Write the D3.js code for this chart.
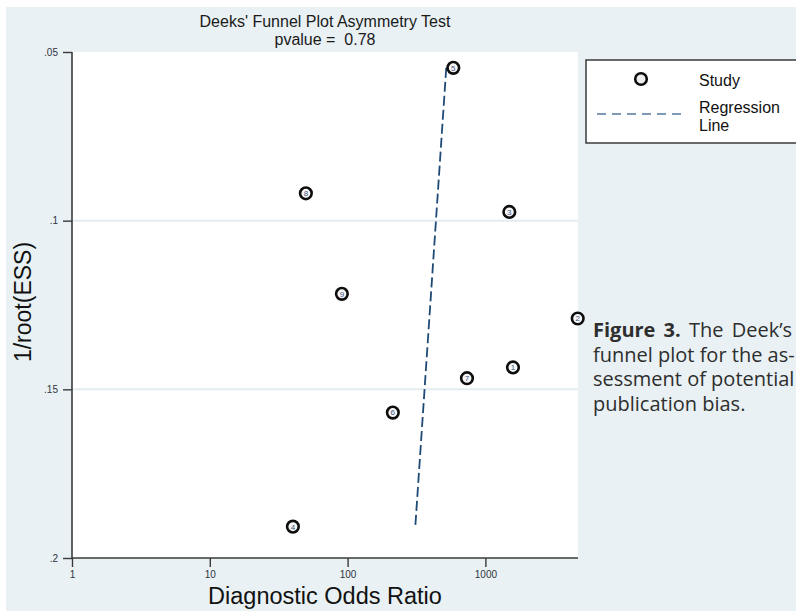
<!DOCTYPE html>
<html>
<head>
<meta charset="utf-8">
<script src="https://cdn.jsdelivr.net/npm/d3@7"></script>
<style>
  html, body { margin: 0; padding: 0; background: #ffffff; overflow: hidden; }
  svg { display: block; }
</style>
</head>
<body>
<div id="chart"></div>
<script>
// ---- data ----
const studyIds   = ["1", "2", "3", "4", "5", "6", "7", "8", "9"];
const dorValues  = [1586, 4677, 1492, 40.1, 585, 213, 735, 49.8, 90.9];
const invRootEss = [0.1435, 0.1290, 0.0974, 0.1907, 0.0547, 0.1569, 0.1467, 0.0919, 0.1217];
const regressionDor = [520, 310];
const regressionY   = [0.0547, 0.1907];
const xTickValues = [1, 10, 100, 1000];
const yTickValues = [0.05, 0.1, 0.15, 0.2];
const yGridValues = [0.1, 0.15];
const titleLines  = ["Deeks' Funnel Plot Asymmetry Test", "pvalue =  0.78"];
const legendLabels = ["Study", "Regression", "Line"];
const captionLines = [
  {bold: "Figure 3.", rest: " The Deek\u2019s"},
  {bold: "", rest: "funnel plot for the as-"},
  {bold: "", rest: "sessment of potential"},
  {bold: "", rest: "publication bias."}
];
const captionWordSpacing = [3, 0, 0, 0];

const W = 796, H = 611;
const bg = "#e9f1f4";
const svg = d3.select("#chart").append("svg").attr("width", W).attr("height", H);

// outer background
svg.append("rect").attr("x", 6).attr("y", 7).attr("width", W - 6).attr("height", H - 7).attr("fill", bg);

const plot = {left: 72, right: 578, top: 52, bottom: 558};
const x = d3.scaleLog().domain([1, 4700]).range([plot.left, plot.right]);
const y = d3.scaleLinear().domain([0.05, 0.2]).range([plot.top, plot.bottom]);

// plot region
svg.append("rect")
  .attr("x", plot.left).attr("y", plot.top)
  .attr("width", plot.right - plot.left).attr("height", plot.bottom - plot.top)
  .attr("fill", "#ffffff");

// gridlines
svg.append("g").selectAll("line").data(yGridValues).join("line")
  .attr("x1", plot.left).attr("x2", plot.right)
  .attr("y1", d => y(d)).attr("y2", d => y(d))
  .attr("stroke", "#e3edf1").attr("stroke-width", 2);

// axes
const fmtY = d => d3.format("")(d).replace(/^0/, "");
const yAxis = d3.axisLeft(y).tickValues(yTickValues).tickFormat(fmtY).tickSize(9).tickPadding(5);
const xAxis = d3.axisBottom(x).tickValues(xTickValues).tickFormat(d3.format("d")).tickSize(9).tickPadding(4);

const gy = svg.append("g").attr("transform", `translate(${plot.left},0)`).call(yAxis);
const gx = svg.append("g").attr("transform", `translate(0,${plot.bottom})`).call(xAxis);
[gx, gy].forEach(g => {
  g.select(".domain").attr("stroke", "#3a3a3a").attr("stroke-width", 1.6);
  g.selectAll(".tick line").attr("stroke", "#3a3a3a").attr("stroke-width", 1.4);
  g.selectAll(".tick text").attr("fill", "#2e3440").attr("font-family", "Liberation Sans, Arial, sans-serif").attr("font-size", 10);
});
gx.select(".domain").attr("d", `M${plot.left},0H${plot.right}`);
gy.select(".domain").attr("d", `M0,${plot.top}V${plot.bottom}`);

// regression line
const lineGen = d3.line().x(d => x(d[0])).y(d => y(d[1]));
svg.append("path")
  .datum(d3.zip(regressionDor, regressionY))
  .attr("d", lineGen)
  .attr("fill", "none")
  .attr("stroke", "#1f4a76")
  .attr("stroke-width", 1.8)
  .attr("stroke-dasharray", "10,4");

// study markers
const pts = d3.zip(studyIds, dorValues, invRootEss);
const gp = svg.append("g").selectAll("g").data(pts).join("g")
  .attr("transform", d => `translate(${x(d[1])},${y(d[2])})`);
gp.append("circle").attr("r", 5.8).attr("fill", "#f6f6f6").attr("stroke", "#0d0d0d").attr("stroke-width", 2.6);
gp.append("text").text(d => d[0])
  .attr("text-anchor", "middle").attr("dy", "0.36em")
  .attr("font-family", "Liberation Sans, Arial, sans-serif").attr("font-size", 8)
  .attr("fill", "#3d5482");

// titles
const tx = (plot.left + plot.right) / 2;
svg.append("text").attr("x", tx).attr("y", 27).attr("text-anchor", "middle")
  .attr("font-family", "Liberation Sans, Arial, sans-serif").attr("font-size", 16).attr("fill", "#1a1a1a")
  .text(titleLines[0]);
svg.append("text").attr("x", tx).attr("y", 45).attr("text-anchor", "middle")
  .attr("font-family", "Liberation Sans, Arial, sans-serif").attr("font-size", 16).attr("fill", "#1a1a1a")
  .attr("xml:space", "preserve").style("white-space", "pre")
  .text(titleLines[1]);

svg.append("text").attr("x", tx).attr("y", 604).attr("text-anchor", "middle")
  .attr("font-family", "Liberation Sans, Arial, sans-serif").attr("font-size", 23.5).attr("fill", "#111")
  .text("Diagnostic Odds Ratio");
svg.append("text")
  .attr("transform", `translate(31,${(plot.top + plot.bottom) / 2 - 3}) rotate(-90)`)
  .attr("text-anchor", "middle")
  .attr("font-family", "Liberation Sans, Arial, sans-serif").attr("font-size", 23).attr("fill", "#111")
  .text("1/root(ESS)");

// legend
const lg = svg.append("g");
lg.append("rect").attr("x", 586).attr("y", 60).attr("width", 260).attr("height", 83)
  .attr("fill", "#ffffff").attr("stroke", "#3a3a3a").attr("stroke-width", 1.5);
lg.append("circle").attr("cx", 641).attr("cy", 79).attr("r", 5.8)
  .attr("fill", "#eeeeee").attr("stroke", "#0d0d0d").attr("stroke-width", 2.6);
lg.append("line").attr("x1", 597).attr("x2", 686).attr("y1", 114).attr("y2", 114)
  .attr("stroke", "#557a9c").attr("stroke-width", 1.6).attr("stroke-dasharray", "9,6");
const legFont = "Liberation Sans, Arial, sans-serif";
lg.append("text").attr("x", 699).attr("y", 86).attr("font-family", legFont).attr("font-size", 16).attr("fill", "#111").text(legendLabels[0]);
lg.append("text").attr("x", 699).attr("y", 113).attr("font-family", legFont).attr("font-size", 16).attr("fill", "#111").text(legendLabels[1]);
lg.append("text").attr("x", 699).attr("y", 131).attr("font-family", legFont).attr("font-size", 16).attr("fill", "#111").text(legendLabels[2]);

// caption
const cap = svg.append("g");
captionLines.forEach((ln, i) => {
  const t = cap.append("text").attr("x", 593).attr("y", 337 + i * 24.5)
    .attr("font-family", "Open Sans, DejaVu Sans, sans-serif").attr("font-size", 20).attr("fill", "#2e2e2e")
    .attr("word-spacing", captionWordSpacing[i])
    .attr("xml:space", "preserve").style("white-space", "pre");
  if (ln.bold) t.append("tspan").attr("font-weight", "bold").text(ln.bold);
  t.append("tspan").text(ln.rest);
});
</script>
</body>
</html>
